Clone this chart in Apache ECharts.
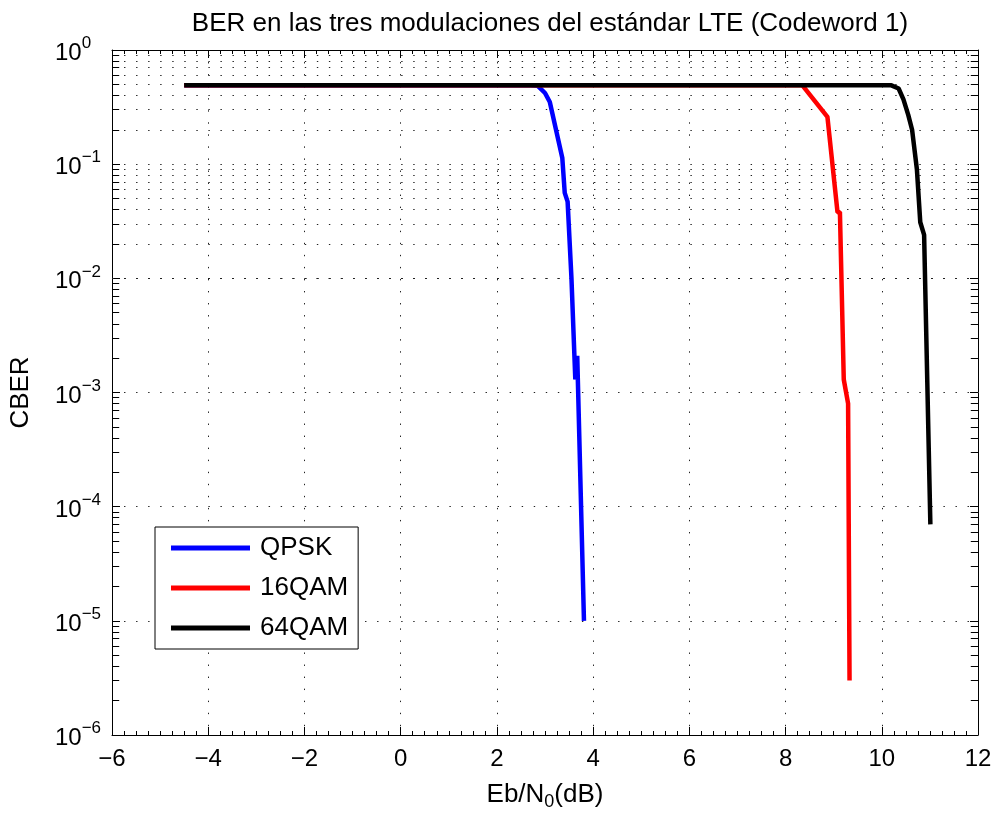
<!DOCTYPE html>
<html>
<head>
<meta charset="utf-8">
<script src="https://cdn.jsdelivr.net/npm/echarts@6/dist/echarts.min.js"></script>
<style>
html,body{margin:0;padding:0;background:#fff;}
#chart{width:997px;height:816px;}
</style>
</head>
<body>
<div id="chart"></div>
<script>
// ---- data ----
const titleText = 'BER en las tres modulaciones del estándar LTE (Codeword 1)';
const seriesNames = ['QPSK', '16QAM', '64QAM'];
const seriesColors = ['#0000ff', '#ff0000', '#000000'];
const qpsk = [[-4.5,0.49],[2.7,0.49],[2.85,0.485],[3.0,0.42],[3.1,0.35],[3.36,0.113],[3.41,0.056],[3.47,0.047],[3.55,0.01],[3.63,0.0013],[3.67,0.0021],[3.81,1e-5]];
const qam16 = [[-4.5,0.49],[8.35,0.49],[8.87,0.26],[9.08,0.038],[9.13,0.038],[9.21,0.0013],[9.3,0.0008],[9.33,3e-6]];
const qam64 = [[-4.5,0.49],[10.2,0.49],[10.35,0.46],[10.45,0.37],[10.55,0.27],[10.63,0.2],[10.73,0.09],[10.8,0.031],[10.88,0.024],[11.01,7e-5]];
const xMin = -6, xMax = 12, xStep = 2;
const yMin = 1e-6, yMax = 1;
const minorMantissas = [2,3,4,5,6,7,8,9];
const minorDecades = [-6,-5,-4,-3,-2,-1];

// ---- build ----
const FONT = 'Liberation Sans, Arial, Helvetica, sans-serif';
const minorVals = [];
minorDecades.forEach(function(d){ minorMantissas.forEach(function(m){ minorVals.push(m*Math.pow(10,d)); }); });
const dotStyle = {color:'#222', width:1, type:[1.4,10.65], dashOffset:0};
const tickLen = 0.15;
const gridLines = minorVals.map(function(v){ return {yAxis:v}; });
const tickSegs = [];
minorVals.forEach(function(v){
  tickSegs.push([{coord:[xMin,v]},{coord:[xMin+tickLen,v]}]);
  tickSegs.push([{coord:[xMax-tickLen,v]},{coord:[xMax,v]}]);
});

function expLabel(v){
  const e = Math.round(Math.log10(v));
  return '{b|10}{s|' + (e < 0 ? '\u2212' + (-e) : String(e)) + '}';
}

const chart = echarts.init(document.getElementById('chart'), null, {renderer:'canvas'});
const lineSeries = [qpsk, qam16, qam64].map(function(d, i){
  return {
    name: seriesNames[i], type:'line', data:d, showSymbol:false, symbol:'none',
    lineStyle:{color:seriesColors[i], width:4.5}, itemStyle:{color:seriesColors[i]},
    xAxisIndex:0, yAxisIndex:0, z:5+i, animation:false
  };
});
const option = {
  animation:false,
  backgroundColor:'#fff',
  title:{text:titleText, left:545, top:6, textAlign:'center',
    textStyle:{fontFamily:FONT, fontWeight:'normal', fontSize:26, color:'#000'}},
  grid:{left:110, right:19, top:50, bottom:80, containLabel:false},
  legend:{
    orient:'vertical', left:155, top:527, data:seriesNames,
    icon:'rect', itemWidth:79, itemHeight:5, itemGap:14, padding:[8,10,8,16],
    borderColor:'#000', borderWidth:1, backgroundColor:'#fff',
    textStyle:{fontFamily:FONT, fontSize:26, color:'#000', padding:[0,0,0,5]}
  },
  xAxis:[{
    type:'value', min:xMin, max:xMax, interval:xStep, position:'bottom',
    axisLine:{show:true, onZero:false, lineStyle:{color:'#000', width:1}},
    axisTick:{inside:true, length:8, lineStyle:{color:'#000'}},
    minorTick:{show:true, splitNumber:8, length:4, lineStyle:{color:'#000'}},
    axisLabel:{fontFamily:FONT, fontSize:24, color:'#000', margin:12,
      formatter:function(v){ return v < 0 ? '\u2212' + (-v) : String(v); }},
    splitLine:{show:true, lineStyle:dotStyle},
    name:'{a|Eb/N}{s|0}{a|(dB)}', nameLocation:'middle', nameGap:44,
    nameTextStyle:{fontFamily:FONT, color:'#000', rich:{
      a:{fontFamily:FONT, fontSize:26, color:'#000'},
      s:{fontFamily:FONT, fontSize:18, color:'#000', padding:[14,0,0,0]}}}
  },{
    type:'value', min:xMin, max:xMax, interval:xStep, position:'top',
    axisLine:{show:true, onZero:false, lineStyle:{color:'#000', width:1}},
    axisTick:{inside:true, length:8, lineStyle:{color:'#000'}},
    minorTick:{show:true, splitNumber:8, length:4, lineStyle:{color:'#000'}},
    axisLabel:{show:false}, splitLine:{show:false}
  }],
  yAxis:[{
    type:'log', logBase:10, min:yMin, max:yMax, position:'left',
    axisLine:{show:true, onZero:false, lineStyle:{color:'#000', width:1}},
    axisTick:{inside:true, length:8, lineStyle:{color:'#000'}},
    axisLabel:{fontFamily:FONT, color:'#000', margin:57, align:'left', formatter:expLabel,
      rich:{b:{fontFamily:FONT, fontSize:24, color:'#000', padding:[7,0,0,0]},
            s:{fontFamily:FONT, fontSize:17, color:'#000', padding:[0,0,13,0]}}},
    splitLine:{show:true, lineStyle:dotStyle},
    name:'CBER', nameLocation:'middle', nameGap:78, nameRotate:90,
    nameTextStyle:{fontFamily:FONT, fontSize:26, color:'#000'}
  },{
    type:'log', logBase:10, min:yMin, max:yMax, position:'right',
    axisLine:{show:true, onZero:false, lineStyle:{color:'#000', width:1}},
    axisTick:{inside:true, length:8, lineStyle:{color:'#000'}},
    axisLabel:{show:false}, splitLine:{show:false}
  }],
  series: [{
    name:'_grid', type:'line', data:[], xAxisIndex:0, yAxisIndex:0, silent:true,
    markLine:{silent:true, symbol:['none','none'], label:{show:false},
      lineStyle:dotStyle, data:gridLines, animation:false}
  },{
    name:'_ticks', type:'line', data:[], xAxisIndex:0, yAxisIndex:0, silent:true,
    markLine:{silent:true, symbol:['none','none'], label:{show:false},
      lineStyle:{color:'#000', width:1, type:'solid'}, data:tickSegs, animation:false}
  }].concat(lineSeries)
};
chart.setOption(option);
</script>
</body>
</html>
